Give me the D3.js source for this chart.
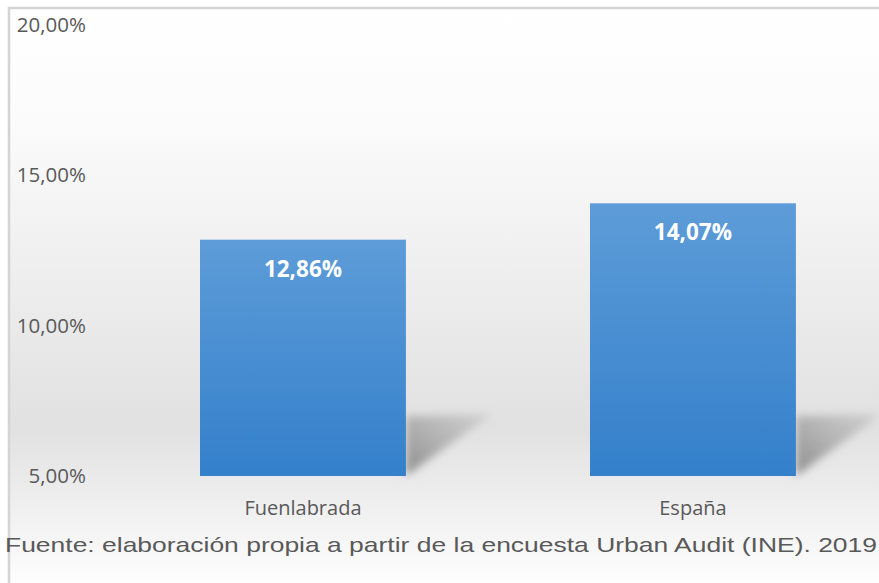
<!DOCTYPE html>
<html>
<head>
  <meta charset="utf-8">
  <style>
    html, body { margin: 0; padding: 0; background: #fff; overflow: hidden; }
    text { font-family: "Open Sans", "Liberation Sans", sans-serif; }
  </style>
  <script src="https://d3js.org/d3.v7.min.js"></script>
</head>
<body>
  <div id="chart"></div>
  <script>
    // data
    const categories = ["Fuenlabrada", "España"];
    const values = [12.86, 14.07];
    const tickValues = [5, 10, 15, 20];
    const sourceText = "Fuente: elaboración propia a partir de la encuesta Urban Audit (INE). 2019";

    const width = 879, height = 583;
    const fmt = v => v.toFixed(2).replace(".", ",") + "%";

    const svg = d3.select("#chart").append("svg")
      .attr("width", width).attr("height", height);

    const defs = svg.append("defs");

    const bg = defs.append("linearGradient").attr("id", "bg")
      .attr("x1", 0).attr("y1", 0).attr("x2", 0).attr("y2", 1);
    bg.append("stop").attr("offset", "0%").attr("stop-color", "#ffffff");
    bg.append("stop").attr("offset", "20%").attr("stop-color", "#fbfbfb");
    bg.append("stop").attr("offset", "72%").attr("stop-color", "#e1e1e1");
    bg.append("stop").attr("offset", "88%").attr("stop-color", "#f2f2f2");
    bg.append("stop").attr("offset", "100%").attr("stop-color", "#ffffff");

    const barGrad = defs.append("linearGradient").attr("id", "barGrad")
      .attr("x1", 0).attr("y1", 0).attr("x2", 0).attr("y2", 1);
    barGrad.append("stop").attr("offset", "0%").attr("stop-color", "#5d9cd8");
    barGrad.append("stop").attr("offset", "100%").attr("stop-color", "#3480cb");

    const shadowGrad = defs.append("linearGradient").attr("id", "shadowGrad")
      .attr("x1", 0).attr("y1", 1).attr("x2", 1).attr("y2", 0);
    shadowGrad.append("stop").attr("offset", "0%").attr("stop-color", "#858585").attr("stop-opacity", 0.95);
    shadowGrad.append("stop").attr("offset", "100%").attr("stop-color", "#b0b0b0").attr("stop-opacity", 0.35);

    defs.append("filter").attr("id", "blur")
      .attr("x", "-30%").attr("y", "-30%").attr("width", "160%").attr("height", "160%")
      .append("feGaussianBlur").attr("stdDeviation", 4);

    // frame
    svg.append("rect").attr("x", 9).attr("y", 8)
      .attr("width", width).attr("height", height)
      .attr("fill", "url(#bg)")
      .attr("stroke", "#d4d4d4").attr("stroke-width", 2.5);

    const y = d3.scaleLinear().domain([5, 20]).range([476, 25]);
    const x = d3.scaleBand().domain(categories).range([106.4, 889.5]).paddingInner(0.472).paddingOuter(0.24);

    // y axis labels (no line, no ticks), right aligned
    const yAxis = svg.append("g").attr("transform", "translate(86,0)")
      .call(d3.axisLeft(y).tickValues(tickValues).tickFormat(fmt).tickSize(0));
    yAxis.select(".domain").remove();
    yAxis.selectAll("text")
      .attr("x", 0).attr("text-anchor", "end")
      .attr("fill", "#595959").attr("font-size", 20.5);

    const data = categories.map((c, i) => ({ cat: c, val: values[i] }));

    // shadows
    svg.append("g").selectAll("path").data(data).join("path")
      .attr("d", d => {
        const xr = x(d.cat) + x.bandwidth(), yb = y(5);
        return `M${xr},${yb} L${xr},${yb - 60} L${xr + 86},${yb - 62} Z`;
      })
      .attr("fill", "url(#shadowGrad)")
      .attr("filter", "url(#blur)");

    // bars
    svg.append("g").selectAll("rect").data(data).join("rect")
      .attr("x", d => x(d.cat))
      .attr("y", d => y(d.val))
      .attr("width", x.bandwidth())
      .attr("height", d => y(5) - y(d.val))
      .attr("fill", "url(#barGrad)");

    // value labels
    svg.append("g").selectAll("text").data(data).join("text")
      .attr("x", d => x(d.cat) + x.bandwidth() / 2)
      .attr("y", d => y(d.val) + 37)
      .attr("text-anchor", "middle")
      .attr("fill", "#ffffff")
      .attr("font-weight", "bold")
      .attr("font-size", 22.5)
      .text(d => fmt(d.val));

    // x axis labels
    const xAxis = svg.append("g").attr("transform", `translate(0,${y(5)})`)
      .call(d3.axisBottom(x).tickSize(0));
    xAxis.select(".domain").remove();
    xAxis.selectAll("text")
      .attr("y", 39).attr("dy", 0)
      .attr("fill", "#595959").attr("font-size", 20);

    // source
    svg.append("text")
      .attr("x", 5).attr("y", 552)
      .attr("fill", "#595959")
      .attr("font-size", 21)
      .attr("textLength", 872)
      .attr("lengthAdjust", "spacingAndGlyphs")
      .style("font-family", "'Liberation Sans', sans-serif")
      .text(sourceText);
  </script>
</body>
</html>
